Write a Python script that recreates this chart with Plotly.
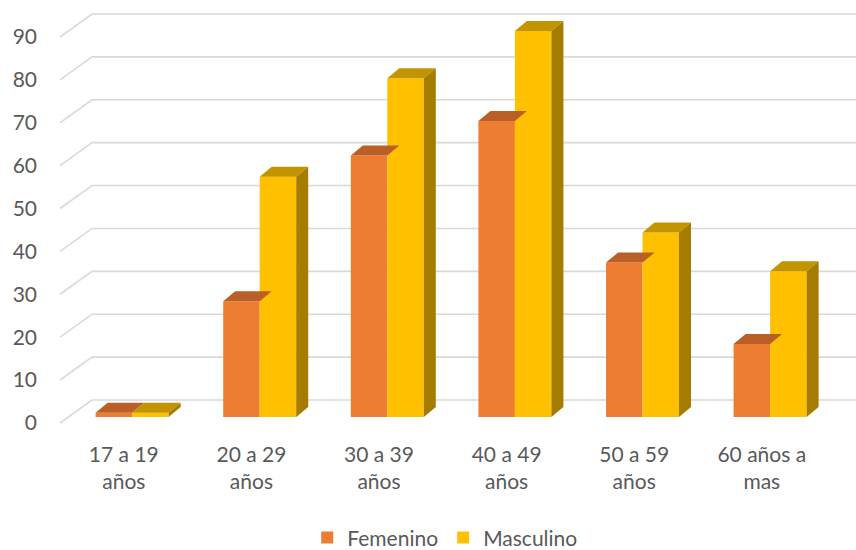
import plotly.graph_objects as go

# ---- data ----
categories = ["17 a 19<br>años", "20 a 29<br>años", "30 a 39<br>años",
              "40 a 49<br>años", "50 a 59<br>años", "60 años a<br>mas"]
femenino = [1, 27, 61, 69, 36, 17]
masculino = [1, 56, 79, 90, 43, 34]
y_ticks = [0, 10, 20, 30, 40, 50, 60, 70, 80, 90]

# ---- styling / pseudo-3D geometry (in axis units) ----
PX_PER_CAT = 127.6
PX_PER_VAL = 4.289
X_MIN = -0.5
X_MAX = -0.5 + 796 / PX_PER_CAT
Y_MIN = -7 / PX_PER_VAL
Y_MAX = 90 + 32 / PX_PER_VAL

WALL_DX = 32 / PX_PER_CAT
WALL_DY = 23 / PX_PER_VAL
BAR_OFF_X = 8.3 / PX_PER_CAT
BAR_BASE = 6 / PX_PER_VAL
BAR_DX = 12 / PX_PER_CAT
BAR_DY = 10 / PX_PER_VAL
BAR_W = 36.5 / PX_PER_CAT

F_FRONT, F_TOP = "#ED7D31", "#B95F27"
M_FRONT, M_TOP, M_SIDE = "#FFC000", "#C29500", "#A67C00"
TEXT = "#595959"
GRID = "#D9D9D9"
FONT = "Lato"

x_idx = list(range(len(categories)))
centers = [i + BAR_OFF_X for i in x_idx]

fig = go.Figure()

# front faces
fig.add_trace(go.Bar(x=centers, y=femenino, base=BAR_BASE, width=BAR_W, offset=-BAR_W,
                     marker=dict(color=F_FRONT, line=dict(width=0)), name="Femenino"))
fig.add_trace(go.Bar(x=centers, y=masculino, base=BAR_BASE, width=BAR_W, offset=0,
                     marker=dict(color=M_FRONT, line=dict(width=0)), name="Masculino"))

# top & side faces
for c, f, m in zip(centers, femenino, masculino):
    ft = BAR_BASE + f
    mt = BAR_BASE + m
    fig.add_trace(go.Scatter(
        x=[c - BAR_W, c - BAR_W + BAR_DX, c + BAR_DX, c, c - BAR_W],
        y=[ft, ft + BAR_DY, ft + BAR_DY, ft, ft],
        fill="toself", fillcolor=F_TOP, mode="lines", line=dict(width=0),
        showlegend=False, hoverinfo="skip"))
    fig.add_trace(go.Scatter(
        x=[c, c + BAR_DX, c + BAR_W + BAR_DX, c + BAR_W, c],
        y=[mt, mt + BAR_DY, mt + BAR_DY, mt, mt],
        fill="toself", fillcolor=M_TOP, mode="lines", line=dict(width=0),
        showlegend=False, hoverinfo="skip"))
    fig.add_trace(go.Scatter(
        x=[c + BAR_W, c + BAR_W + BAR_DX, c + BAR_W + BAR_DX, c + BAR_W, c + BAR_W],
        y=[BAR_BASE, BAR_BASE + BAR_DY, mt + BAR_DY, mt, BAR_BASE],
        fill="toself", fillcolor=M_SIDE, mode="lines", line=dict(width=0),
        showlegend=False, hoverinfo="skip"))

# gridlines on side wall and back wall
shapes = []
for v in y_ticks:
    shapes.append(dict(
        type="path", xref="x", yref="y", layer="below",
        path=f"M {X_MIN},{v} L {X_MIN + WALL_DX},{v + WALL_DY} L {X_MAX + 1},{v + WALL_DY}",
        line=dict(color=GRID, width=1.6)))

fig.update_layout(
    width=856, height=550,
    margin=dict(l=60, r=0, t=5, b=120, autoexpand=False),
    paper_bgcolor="white", plot_bgcolor="white",
    font=dict(family=FONT, size=21, color=TEXT),
    shapes=shapes,
    barmode="overlay",
    showlegend=True,
    legend=dict(orientation="h", x=0.484, xanchor="center", y=-0.254, yanchor="middle",
                font=dict(size=21, color=TEXT), itemwidth=30, traceorder="normal"),
    xaxis=dict(range=[X_MIN, X_MAX], tickmode="array", tickvals=x_idx, ticktext=categories,
               showgrid=False, zeroline=False, showline=False, ticks="", automargin=False,
               ticklabelstandoff=10, fixedrange=True),
    yaxis=dict(range=[Y_MIN, Y_MAX], tickmode="array", tickvals=y_ticks,
               showgrid=False, zeroline=False, showline=False, ticks="", automargin=False,
               ticklabelstandoff=22, fixedrange=True),
)

fig.write_html("out.html", config={"displayModeBar": False},
               post_script="document.body.style.margin='0';document.body.style.overflow='hidden';")
